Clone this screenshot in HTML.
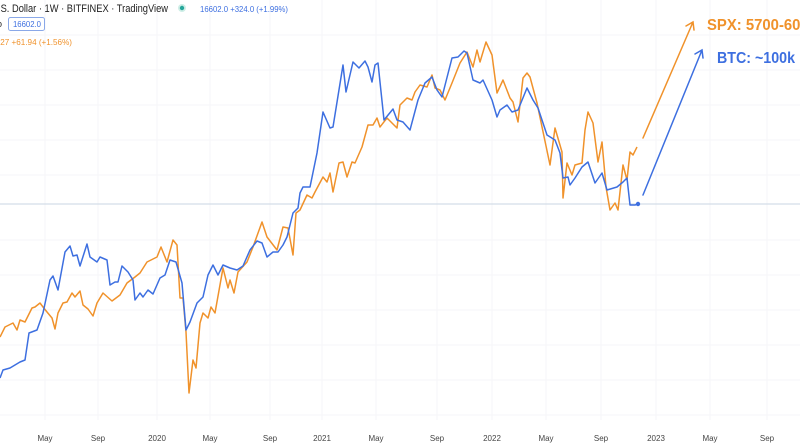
<!DOCTYPE html>
<html><head><meta charset="utf-8"><style>
body{margin:0;width:800px;height:445px;background:#fff;overflow:hidden;font-family:"Liberation Sans",sans-serif;}
</style></head><body>
<svg width="800" height="445" viewBox="0 0 800 445" xmlns="http://www.w3.org/2000/svg" style="position:absolute;left:0;top:0" font-family="Liberation Sans, sans-serif">
<g stroke="#f5f6f8" stroke-width="1">
<line x1="45" y1="0" x2="45" y2="420"/><line x1="98" y1="0" x2="98" y2="420"/><line x1="157" y1="0" x2="157" y2="420"/><line x1="210" y1="0" x2="210" y2="420"/><line x1="270" y1="0" x2="270" y2="420"/><line x1="322" y1="0" x2="322" y2="420"/><line x1="376" y1="0" x2="376" y2="420"/><line x1="437" y1="0" x2="437" y2="420"/><line x1="492" y1="0" x2="492" y2="420"/><line x1="546" y1="0" x2="546" y2="420"/><line x1="601" y1="0" x2="601" y2="420"/><line x1="656" y1="0" x2="656" y2="420"/><line x1="710" y1="0" x2="710" y2="420"/><line x1="767" y1="0" x2="767" y2="420"/>
<line x1="0" y1="35" x2="800" y2="35"/><line x1="0" y1="70" x2="800" y2="70"/><line x1="0" y1="105" x2="800" y2="105"/><line x1="0" y1="140" x2="800" y2="140"/><line x1="0" y1="175" x2="800" y2="175"/><line x1="0" y1="240" x2="800" y2="240"/><line x1="0" y1="275" x2="800" y2="275"/><line x1="0" y1="310" x2="800" y2="310"/><line x1="0" y1="345" x2="800" y2="345"/><line x1="0" y1="380" x2="800" y2="380"/><line x1="0" y1="415" x2="800" y2="415"/>
</g>
<line x1="0" y1="204" x2="800" y2="204" stroke="#c9d6e3" stroke-width="1"/>
<polyline fill="none" stroke="#f0922b" stroke-width="1.5" stroke-linejoin="round" points="0,337 5,327 13,323 17,330 20,320 25,322 32,308 35,307 40,303 43,307 47,312 52,318 55,329 58,313 63,303 67,302 72,293 75,297 80,291 83,305 88,309 93,316 97,303 103,293 112,301 120,295 127,283 135,277 140,273 147,262 157,257 161,247 167,262 173,240 177,245 180,298 183,298 186,332 189,393 193,360 196,368 200,323 203,313 208,318 211,307 215,313 223,268 228,288 230,280 234,293 238,272 247,262 253,247 262,222 267,237 277,250 283,227 288,228 293,255 296,213 300,210 307,195 312,198 315,192 323,177 327,182 330,173 333,192 339,163 343,162 347,177 352,162 355,163 362,147 368,125 373,125 377,118 380,127 387,118 397,128 400,105 407,98 412,100 415,92 420,85 427,87 432,75 435,88 440,90 445,100 452,83 460,63 467,52 473,67 477,50 480,62 486,42 492,55 497,93 503,80 510,98 513,102 518,122 523,78 527,73 530,77 537,103 550,165 555,128 562,152 563,198 567,163 572,175 575,165 582,163 585,130 588,112 593,123 598,162 602,142 606,187 610,210 615,203 618,210 623,165 627,180 630,152 633,155 637,147"/>
<polyline fill="none" stroke="#3d6fe0" stroke-width="1.5" stroke-linejoin="round" points="0,378 3,370 10,368 20,362 25,360 29,333 37,330 43,313 50,280 53,276 58,290 65,252 70,246 73,256 77,255 80,266 87,244 90,257 97,262 100,257 107,260 110,285 115,282 118,282 122,266 128,272 133,280 135,300 140,293 143,297 148,290 153,294 160,278 165,275 170,260 176,262 182,283 186,330 190,322 197,303 203,297 208,275 213,265 218,275 223,265 230,268 237,270 243,266 250,250 257,241 262,243 267,257 273,252 278,252 283,245 287,237 293,213 298,208 300,193 303,187 310,187 317,153 323,112 330,128 333,127 343,65 346,92 353,62 359,68 365,61 368,67 372,82 375,65 378,63 384,120 393,109 397,120 403,122 410,130 418,100 425,83 432,77 437,90 442,97 452,58 458,57 464,51 467,53 473,80 480,83 483,80 492,100 497,117 500,110 507,105 512,112 518,110 527,88 533,100 538,108 547,135 555,140 560,153 563,178 568,177 570,185 575,178 582,167 588,162 595,183 602,173 607,190 617,187 623,182 627,178 630,205 635,205 638,204"/>
<circle cx="638" cy="204" r="2.2" fill="#3d6fe0"/>
<g fill="none" stroke-width="1.5" stroke-linecap="round">
<path d="M643,138 L693,22 M686,26 L693,22 L694,30" stroke="#f0922b"/>
<path d="M643,195 L702,50 M695,54 L702,50 L703,58" stroke="#3d6fe0"/>
</g>
<text x="707" y="30" font-weight="bold" font-size="16" fill="#f0922b" textLength="110" lengthAdjust="spacingAndGlyphs">SPX: 5700-6000</text>
<text x="717" y="63" font-weight="bold" font-size="16" fill="#3d6fe0" textLength="78" lengthAdjust="spacingAndGlyphs">BTC: ~100k</text>
<text x="-2" y="12" font-size="11" fill="#222" textLength="170" lengthAdjust="spacingAndGlyphs">.S. Dollar · 1W · BITFINEX · TradingView</text>
<circle cx="182" cy="8" r="4" fill="#cfeee6"/><circle cx="182" cy="8" r="2.2" fill="#26a69a"/>
<text x="200" y="12" font-size="8.5" fill="#3d6fe0" textLength="88" lengthAdjust="spacingAndGlyphs">16602.0 +324.0 (+1.99%)</text>
<text x="-3" y="27" font-size="9" fill="#222">o</text>
<rect x="8.5" y="17.5" width="36" height="13" rx="2" fill="#fff" stroke="#8aa8e8"/>
<text x="13" y="27" font-size="8.5" fill="#3d6fe0" textLength="28" lengthAdjust="spacingAndGlyphs">16602.0</text>
<text x="-2" y="45" font-size="8.5" fill="#f0922b" textLength="74" lengthAdjust="spacingAndGlyphs">.27 +61.94 (+1.56%)</text>
<g font-size="8" fill="#444" text-anchor="middle">
<text x="45" y="441">May</text><text x="98" y="441">Sep</text><text x="157" y="441">2020</text><text x="210" y="441">May</text><text x="270" y="441">Sep</text><text x="322" y="441">2021</text><text x="376" y="441">May</text><text x="437" y="441">Sep</text><text x="492" y="441">2022</text><text x="546" y="441">May</text><text x="601" y="441">Sep</text><text x="656" y="441">2023</text><text x="710" y="441">May</text><text x="767" y="441">Sep</text>
</g>
</svg>
</body></html>
